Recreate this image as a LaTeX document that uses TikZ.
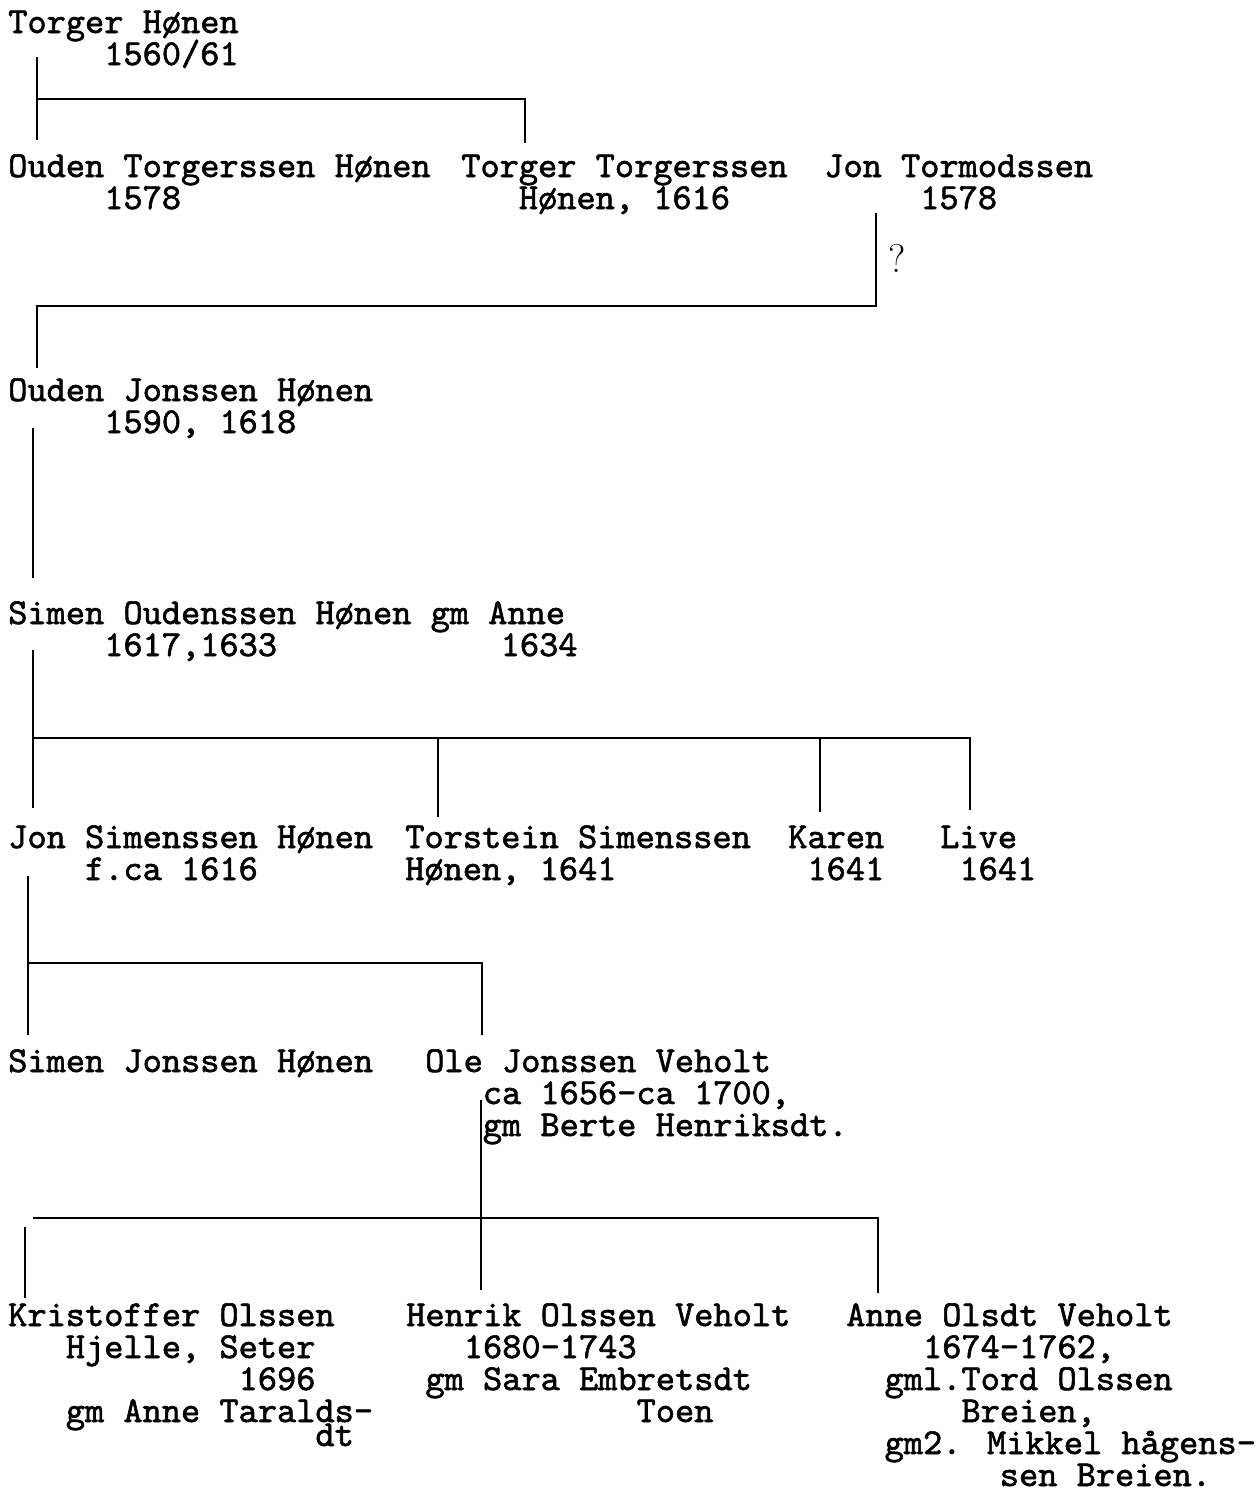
\documentclass[tikz,border=0pt]{standalone}
\usepackage{fontspec}
\usetikzlibrary{calc}
\newfontfamily\typer{lmmono10-regular.otf}[FakeBold=1.6]
\newlength\cw
\setlength\cw{14.4pt}
\newcommand\ind[1]{\kern#1\cw\relax}
\newcommand\famtext[1]{\vtop{\baselineskip=24pt\lineskiplimit=-100pt\lineskip=0pt\halign{##\hfil\cr#1\crcr}}}
\tikzset{person/.style={anchor=base west, inner sep=0pt, font=\typer\fontsize{27.43}{24}\selectfont},
	line/.style={line width=1.5pt}}

\begin{document}
\begin{tikzpicture}[x=0.75pt,y=0.75pt,yscale=-1,xscale=1]
	\useasboundingbox (0,0) rectangle (1259,1489);

	% generation 1
	\node [person] (torger) at (8,33) {\famtext{Torger Hønen\cr\ind{5}1560/61}};
	% generation 2
	\node [person] (oudenT) at (8,177) {\famtext{Ouden Torgerssen Hønen\cr\ind{5}1578}};
	\node [person] (torgerT) at (461,177) {\famtext{Torger Torgerssen\cr\ind{3}Hønen, 1616}};
	\node [person] (jonT) at (824,177) {\famtext{Jon Tormodssen\cr\ind{5}1578}};
	\node [font=\fontsize{30}{30}\selectfont, inner sep=0pt] (query) at (897,258) {?};
	% generation 3
	\node [person] (oudenJ) at (8,401) {\famtext{Ouden Jonssen Hønen\cr\ind{5}1590, 1618}};
	% generation 4
	\node [person] (simenO) at (8,624) {\famtext{Simen Oudenssen Hønen gm Anne\cr\ind{5}1617,1633\kern11.65\cw 1634}};
	% generation 5
	\node [person] (jonS) at (8,848) {\famtext{Jon Simenssen Hønen\cr\ind{4}f.ca 1616}};
	\node [person] (torstein) at (405,848) {\famtext{Torstein Simenssen\cr Hønen, 1641}};
	\node [person] (karen) at (788,848) {\famtext{Karen\cr\ind{1}1641}};
	\node [person] (live) at (940,848) {\famtext{Live\cr\ind{1}1641}};
	% generation 6
	\node [person] (simenJ) at (8,1072) {\famtext{Simen Jonssen Hønen}};
	\node [person] (ole) at (425,1072) {\famtext{Ole Jonssen Veholt\cr\ind{3}ca 1656-ca 1700,\cr\ind{3}gm Berte Henriksdt.}};
	% generation 7
	\node [person] (kristoffer) at (8,1326) {\famtext{Kristoffer Olssen\cr\ind{3}Hjelle, Seter\cr\ind{12}1696\cr\ind{3}gm Anne Taralds-\cr\noalign{\kern-6pt}\ind{16}dt}};
	\node [person] (henrik) at (406,1326) {\famtext{Henrik Olssen Veholt\cr\ind{3}1680-1743\cr\ind{1}gm Sara Embretsdt\cr\ind{12}Toen}};
	\node [person] (anne) at (846,1326) {\famtext{Anne Olsdt Veholt\cr\ind{4}1674-1762,\cr\ind{2}gml.Tord Olssen\cr\ind{6}Breien,\cr\ind{2}gm2. Mikkel hågens-\cr\ind{8}sen Breien.}};

	% line coordinates
	\coordinate (torgerTop) at (37,57);
	\coordinate (torgerBar) at (37,99);
	\coordinate (oudenTTop) at (37,140);
	\coordinate (torgerTTop) at (525,143);
	\coordinate (jonTBot) at (876,213);
	\coordinate (jonTBar) at (37,306);
	\coordinate (oudenJTop) at (37,368);
	\coordinate (oudenJBot) at (33,428);
	\coordinate (simenOTop) at (33,578);
	\coordinate (simenOBot) at (33,650);
	\coordinate (simenOBar) at (33,738);
	\coordinate (jonSTop) at (33,808);
	\coordinate (torsteinTop) at (438,817);
	\coordinate (karenTop) at (820,812);
	\coordinate (liveTop) at (970,810);
	\coordinate (jonSBot) at (28,876);
	\coordinate (jonSBar) at (28,963);
	\coordinate (simenJTop) at (28,1035);
	\coordinate (oleTop) at (482,1035);
	\coordinate (oleBot) at (481,1100);
	\coordinate (oleBar) at (33,1218);
	\coordinate (henrikTop) at (481,1290);
	\coordinate (kristofferBar) at (25,1227);
	\coordinate (kristofferTop) at (25,1298);
	\coordinate (anneTop) at (878,1293);

	% connectors
	\draw [line] (torgerTop) -- (oudenTTop);
	\draw [line] (torgerBar) -| (torgerTTop);
	\draw [line] (jonTBot) |- (jonTBar) -- (oudenJTop);
	\draw [line] (oudenJBot) -- (simenOTop);
	\draw [line] (simenOBot) -- (jonSTop);
	\draw [line] (simenOBar) -| (liveTop);
	\draw [line] (simenOBar -| torsteinTop) -- (torsteinTop);
	\draw [line] (simenOBar -| karenTop) -- (karenTop);
	\draw [line] (jonSBot) -- (simenJTop);
	\draw [line] (jonSBar) -| (oleTop);
	\draw [line] (oleBot) -- (henrikTop);
	\draw [line] (oleBar) -| (anneTop);
	\draw [line] (kristofferBar) -- (kristofferTop);
\end{tikzpicture}
\end{document}
